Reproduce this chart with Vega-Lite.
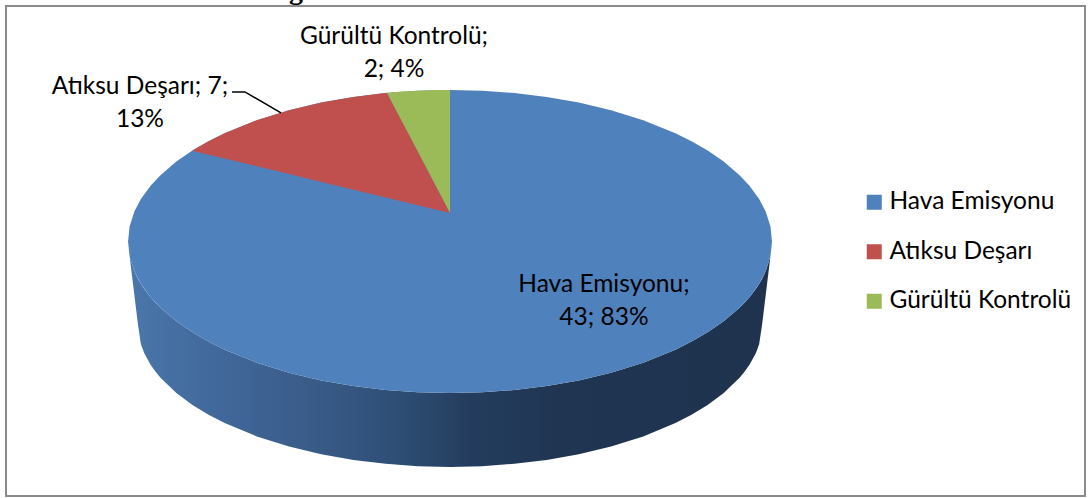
{
"$schema":"https://vega.github.io/schema/vega-lite/v6.json",
"width":1079,"height":490,
"autosize":{"type":"none"},
"padding":{"left":6,"top":6,"right":4,"bottom":2},
"background":"#ffffff",
"config":{"view":{"stroke":"#8a8a8a","strokeWidth":2}},
"encoding":{
"x":{"field":"u","type":"quantitative","axis":null,"scale":{"domain":[-1.379,1.972],"nice":false,"zero":false}},
"y":{"field":"v","type":"quantitative","axis":null,"scale":{"domain":[-1.680,1.554],"nice":false,"zero":false}}
},
"layer":[
{"data":{"values":[
{"u":-1,"v":0,"w":0},{"u":-0.995,"v":-0.0999,"w":-0.0999},{"u":-0.98,"v":-0.199,"w":-0.36},{"u":-0.969,"v":-0.247,"w":-0.551},{"u":-0.96,"v":-0.28,"w":-0.678},{"u":-0.95,"v":-0.312,"w":-0.736},{"u":-0.93,"v":-0.368,"w":-0.814},{"u":-0.915,"v":-0.403,"w":-0.859},{"u":-0.9,"v":-0.436,"w":-0.898},{"u":-0.85,"v":-0.527,"w":-1.001},{"u":-0.8,"v":-0.6,"w":-1.08},{"u":-0.75,"v":-0.661,"w":-1.144},{"u":-0.7,"v":-0.714,"w":-1.199},{"u":-0.6,"v":-0.8,"w":-1.287},{"u":-0.5,"v":-0.866,"w":-1.354},{"u":-0.4,"v":-0.917,"w":-1.404},{"u":-0.3,"v":-0.954,"w":-1.442},{"u":-0.2,"v":-0.98,"w":-1.467},{"u":-0.1,"v":-0.995,"w":-1.483},{"u":0,"v":-1,"w":-1.488},
{"u":0.1,"v":-0.995,"w":-1.483},{"u":0.2,"v":-0.98,"w":-1.467},{"u":0.3,"v":-0.954,"w":-1.442},{"u":0.4,"v":-0.917,"w":-1.404},{"u":0.5,"v":-0.866,"w":-1.354},{"u":0.6,"v":-0.8,"w":-1.287},{"u":0.7,"v":-0.714,"w":-1.199},{"u":0.75,"v":-0.661,"w":-1.144},{"u":0.8,"v":-0.6,"w":-1.08},{"u":0.85,"v":-0.527,"w":-1.001},{"u":0.9,"v":-0.436,"w":-0.898},{"u":0.915,"v":-0.403,"w":-0.859},{"u":0.93,"v":-0.368,"w":-0.814},{"u":0.95,"v":-0.312,"w":-0.736},{"u":0.96,"v":-0.28,"w":-0.678},{"u":0.969,"v":-0.247,"w":-0.551},{"u":0.98,"v":-0.199,"w":-0.36},{"u":0.995,"v":-0.0999,"w":-0.0999},{"u":1,"v":0,"w":0}
]},
"mark":{"type":"area","orient":"vertical","color":{"gradient":"linear","x1":0,"x2":1,"y1":0,"y2":0,"stops":[{"offset":0,"color":"#4a77ab"},{"offset":0.11,"color":"#436b9e"},{"offset":0.266,"color":"#3a5d8b"},{"offset":0.42,"color":"#2e4e75"},{"offset":0.53,"color":"#243d5e"},{"offset":0.67,"color":"#1f3552"},{"offset":1,"color":"#1f334e"}]}},
"encoding":{"y2":{"field":"w"}}},
{"data":{"values":[
{"kategori":"Hava Emisyonu","u":-1,"v":0,"w":0},{"kategori":"Hava Emisyonu","u":-0.995,"v":0.0999,"w":-0.0999},{"kategori":"Hava Emisyonu","u":-0.98,"v":0.199,"w":-0.199},{"kategori":"Hava Emisyonu","u":-0.96,"v":0.28,"w":-0.28},{"kategori":"Hava Emisyonu","u":-0.93,"v":0.368,"w":-0.368},{"kategori":"Hava Emisyonu","u":-0.9,"v":0.436,"w":-0.436},{"kategori":"Hava Emisyonu","u":-0.85,"v":0.527,"w":-0.527},{"kategori":"Hava Emisyonu","u":-0.8,"v":0.6,"w":-0.6},{"kategori":"Hava Emisyonu","u":-0.75,"v":0.661,"w":-0.661},{"kategori":"Hava Emisyonu","u":-0.7,"v":0.714,"w":-0.714},{"kategori":"Hava Emisyonu","u":-0.6,"v":0.8,"w":-0.8},{"kategori":"Hava Emisyonu","u":-0.5,"v":0.866,"w":-0.866},{"kategori":"Hava Emisyonu","u":-0.4,"v":0.917,"w":-0.917},{"kategori":"Hava Emisyonu","u":-0.3,"v":0.954,"w":-0.954},{"kategori":"Hava Emisyonu","u":-0.2,"v":0.98,"w":-0.98},{"kategori":"Hava Emisyonu","u":-0.1,"v":0.995,"w":-0.995},{"kategori":"Hava Emisyonu","u":0,"v":1,"w":-1},
{"kategori":"Hava Emisyonu","u":0.1,"v":0.995,"w":-0.995},{"kategori":"Hava Emisyonu","u":0.2,"v":0.98,"w":-0.98},{"kategori":"Hava Emisyonu","u":0.3,"v":0.954,"w":-0.954},{"kategori":"Hava Emisyonu","u":0.4,"v":0.917,"w":-0.917},{"kategori":"Hava Emisyonu","u":0.5,"v":0.866,"w":-0.866},{"kategori":"Hava Emisyonu","u":0.6,"v":0.8,"w":-0.8},{"kategori":"Hava Emisyonu","u":0.7,"v":0.714,"w":-0.714},{"kategori":"Hava Emisyonu","u":0.75,"v":0.661,"w":-0.661},{"kategori":"Hava Emisyonu","u":0.8,"v":0.6,"w":-0.6},{"kategori":"Hava Emisyonu","u":0.85,"v":0.527,"w":-0.527},{"kategori":"Hava Emisyonu","u":0.9,"v":0.436,"w":-0.436},{"kategori":"Hava Emisyonu","u":0.93,"v":0.368,"w":-0.368},{"kategori":"Hava Emisyonu","u":0.96,"v":0.28,"w":-0.28},{"kategori":"Hava Emisyonu","u":0.98,"v":0.199,"w":-0.199},{"kategori":"Hava Emisyonu","u":0.995,"v":0.0999,"w":-0.0999},{"kategori":"Hava Emisyonu","u":1,"v":0,"w":0},
{"kategori":"Atıksu Deşarı","u":-0.801,"v":0.599,"w":0.599},{"kategori":"Atıksu Deşarı","u":-0.75,"v":0.661,"w":0.573},{"kategori":"Atıksu Deşarı","u":-0.7,"v":0.714,"w":0.547},{"kategori":"Atıksu Deşarı","u":-0.6,"v":0.8,"w":0.496},{"kategori":"Atıksu Deşarı","u":-0.5,"v":0.866,"w":0.445},{"kategori":"Atıksu Deşarı","u":-0.4,"v":0.917,"w":0.393},{"kategori":"Atıksu Deşarı","u":-0.3,"v":0.954,"w":0.342},{"kategori":"Atıksu Deşarı","u":-0.196,"v":0.981,"w":0.289},{"kategori":"Atıksu Deşarı","u":-0.1,"v":0.593,"w":0.239},{"kategori":"Atıksu Deşarı","u":0,"v":0.188,"w":0.188},
{"kategori":"Gürültü Kontrolü","u":-0.196,"v":0.981,"w":0.981},{"kategori":"Gürültü Kontrolü","u":-0.15,"v":0.989,"w":0.795},{"kategori":"Gürültü Kontrolü","u":-0.1,"v":0.995,"w":0.593},{"kategori":"Gürültü Kontrolü","u":-0.05,"v":0.999,"w":0.39},{"kategori":"Gürültü Kontrolü","u":0,"v":1,"w":0.188}
]},
"mark":{"type":"area","orient":"vertical"},
"encoding":{"y2":{"field":"w"},
"color":{"field":"kategori","type":"nominal","scale":{"domain":["Hava Emisyonu","Atıksu Deşarı","Gürültü Kontrolü"],"range":["#4f81bd","#c0504d","#9bbb59"]},
"legend":{"title":null,"orient":"none","legendX":856,"legendY":184,"symbolType":"square","symbolSize":225,"symbolStrokeWidth":0,"labelFont":"Lato","labelFontSize":24.5,"labelColor":"#000000","labelOffset":3,"rowPadding":24.5,"labelLimit":300}}}},
{"data":{"values":[{"u":-0.677,"v":0.987},{"u":-0.637,"v":0.987},{"u":-0.525,"v":0.848}]},
"mark":{"type":"line","color":"#000000","strokeWidth":1.5}},
{"data":{"values":[
{"kategori":"Hava Emisyonu","deger":43,"oran":83,"etiket":"Hava Emisyonu;\n43; 83%","u":0.478,"v":-0.333},
{"kategori":"Atıksu Deşarı","deger":7,"oran":13,"etiket":"Atıksu Deşarı; 7;\n13%","u":-0.963,"v":0.974},
{"kategori":"Gürültü Kontrolü","deger":2,"oran":4,"etiket":"Gürültü Kontrolü;\n2; 4%","u":-0.174,"v":1.304}
]},
"mark":{"type":"text","font":"Lato","fontSize":24.5,"color":"#000000","align":"center","baseline":"alphabetic","lineBreak":"\n","lineHeight":33},
"encoding":{"text":{"field":"etiket"}}},
{"data":{"values":[{"metin":"g","u":-0.478,"v":1.6}]},
"mark":{"type":"text","font":"Liberation Serif","fontWeight":"bold","fontSize":28,"color":"#000000","align":"center","baseline":"alphabetic"},
"encoding":{"text":{"field":"metin"}}}
]
}
